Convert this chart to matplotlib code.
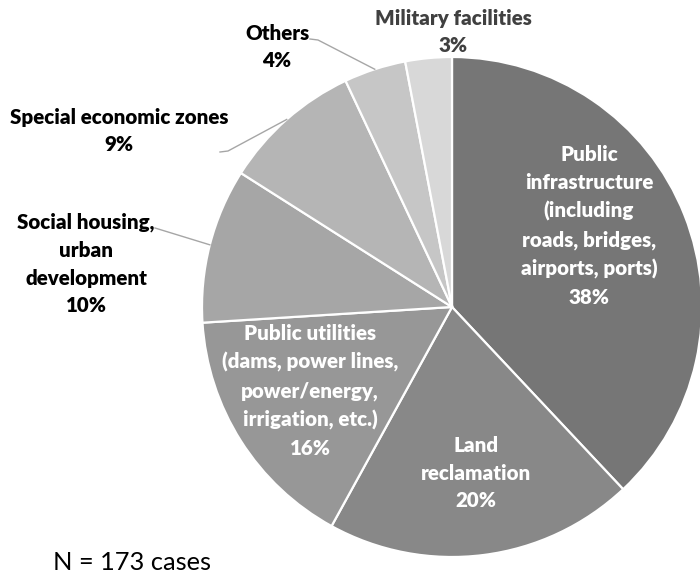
import numpy as np
import matplotlib
matplotlib.use('Agg')
import matplotlib.pyplot as plt

plt.rcParams['font.family'] = ['Lato', 'DejaVu Sans']

# shares of the 173 cases, clockwise from 12 o'clock
labels = ['Public\ninfrastructure\n(including\nroads, bridges,\nairports, ports)',
          'Land\nreclamation',
          'Public utilities\n(dams, power lines,\npower/energy,\nirrigation, etc.)',
          'Social housing,\nurban\ndevelopment',
          'Special economic zones',
          'Others',
          'Military facilities']
pct = [38, 20, 16, 10, 9, 4, 3]
colors = ['#767676', '#888888', '#979797', '#a6a6a6', '#b5b5b5', '#c6c6c6', '#d8d8d8']

H = 575
fig = plt.figure(figsize=(7, 5.75), dpi=100)
ax = fig.add_axes([0, 0, 1, 1])

cx, cy, R = 452, H - 307, 250
wedges, _ = ax.pie(pct, colors=colors, startangle=90, counterclock=False,
                   center=(cx, cy), radius=R,
                   wedgeprops=dict(edgecolor='white', linewidth=1.6))
ax.set_xlim(0, 700)
ax.set_ylim(0, H)
ax.set_aspect('equal')
ax.axis('off')

# label spots in pixel coords (x, y from top)
inside = {0: (589, 226), 1: (476, 473), 2: (310, 391)}
outside = {3: (86, 264), 4: (119, 131), 5: (277, 47), 6: (453, 32)}
elbow = {3: (155, 228), 4: (220, 152), 5: (310, 39)}
elbow2 = {4: (228, 151), 5: (318, 40)}

fs = 14.8
ls = 1.55
for i, (x, y) in inside.items():
    ax.text(x, H - y, f'{labels[i]}\n{pct[i]}%', ha='center', va='center',
            color='white', fontsize=fs, fontweight='heavy', linespacing=ls)

for i, (x, y) in outside.items():
    col = '#404040' if i == 6 else 'black'
    ax.text(x, H - y, f'{labels[i]}\n{pct[i]}%', ha='center', va='center',
            color=col, fontsize=fs, fontweight='heavy', linespacing=ls)
    if i in elbow:
        w = wedges[i]
        mid = np.deg2rad((w.theta1 + w.theta2) / 2)
        rx, ry = cx + R * np.cos(mid), cy + R * np.sin(mid)
        ex, ey = elbow[i]
        px = [ex]
        py = [H - ey]
        if i in elbow2:
            px.append(elbow2[i][0])
            py.append(H - elbow2[i][1])
        px.append(rx)
        py.append(ry)
        ax.plot(px, py, color='#a6a6a6', lw=1)

ax.text(53, H - 562, 'N = 173 cases', ha='left', va='center', fontsize=18.3)

fig.savefig('out.png', dpi=100)
